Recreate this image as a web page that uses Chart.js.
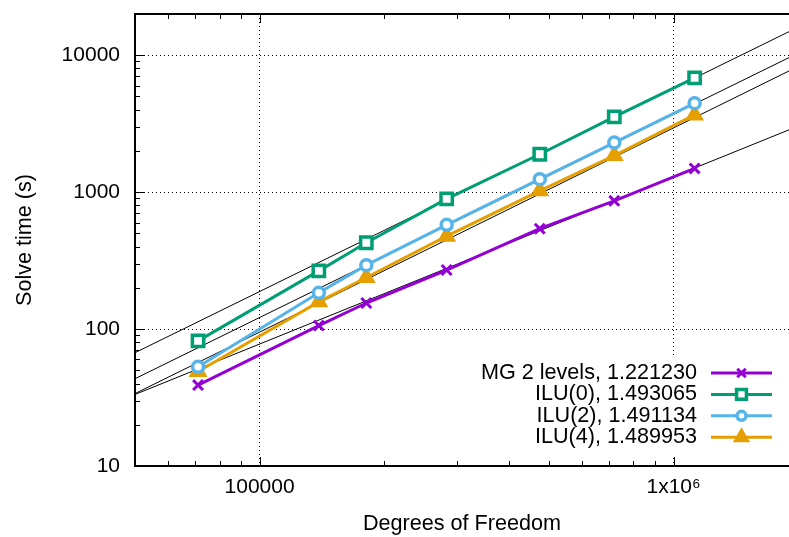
<!DOCTYPE html>
<html>
<head>
<meta charset="utf-8">
<title>Solve time vs degrees of freedom</title>
<script src="https://cdn.jsdelivr.net/npm/chart.js"></script>
<style>
  html, body { margin: 0; padding: 0; background: #ffffff; }
  #wrap { width: 789px; height: 537px; }
</style>
</head>
<body>
<div id="wrap"><canvas id="solveChart" width="789" height="537"></canvas></div>
<script>
  // values
  const dofs = [71000, 139000, 181000, 283000, 475000, 719000, 1124000];
  const mgTimes = [39, 106, 155, 270, 541, 864, 1490];
  const ilu0Times = [82, 266, 427, 894, 1892, 3548, 6826];
  const ilu2Times = [53, 184, 293, 577, 1244, 2300, 4467];
  const ilu4Times = [49, 158, 238, 477, 1022, 1850, 3664];

  // fitted power-law lines, end points at the plot edges
  const fitX = [50000, 1900000];
  const mgFit = [33.3, 2851];
  const ilu0Fit = [67.2, 14860];
  const ilu2Fit = [43.4, 9605];
  const ilu4Fit = [33.8, 7675];

  const seriesLabels = ['MG 2 levels, 1.221230', 'ILU(0), 1.493065', 'ILU(2), 1.491134', 'ILU(4), 1.489953'];
  const xTicks = [100000, 1000000];
  const yTicks = [10, 100, 1000, 10000];

  const FONT = "'Liberation Sans', Arial, Helvetica, sans-serif";

  function pts(xs, ys) {
    return xs.map((x, i) => ({ x: x, y: ys[i] }));
  }

  function series(label, ys, color, style, radius, bg, bw) {
    return {
      label: label,
      data: pts(dofs, ys),
      borderColor: color,
      backgroundColor: bg,
      pointBackgroundColor: bg,
      pointBorderColor: color,
      pointStyle: style,
      pointRadius: radius,
      pointBorderWidth: bw,
      borderWidth: 3,
      tension: 0,
      order: 1
    };
  }

  function fitLine(ys) {
    return {
      label: '',
      data: pts(fitX, ys),
      borderColor: '#000',
      borderWidth: 1,
      pointRadius: 0,
      tension: 0,
      isFit: true,
      order: 5
    };
  }

  // key in the lower right: white box, text first, then line sample with marker
  const keyBox = {
    id: 'keyBox',
    beforeDatasetsDraw(chart) {
      const ctx = chart.ctx;
      ctx.save();
      ctx.fillStyle = '#ffffff';
      ctx.fillRect(474, 356, chart.chartArea.right - 474, 100);
      ctx.restore();
    },
    afterDatasetsDraw(chart) {
      const ctx = chart.ctx;
      const textRight = 697, lineL = 711, lineR = 772, rowTop = 373, rowGap = 21.4;
      const sets = chart.data.datasets.filter(d => !d.isFit);
      ctx.save();
      ctx.font = '21.6px ' + FONT;
      ctx.textAlign = 'right';
      ctx.textBaseline = 'middle';
      sets.forEach((ds, i) => {
        const y = rowTop + i * rowGap;
        ctx.fillStyle = '#000';
        ctx.fillText(ds.label, textRight, y);
        ctx.strokeStyle = ds.borderColor;
        ctx.lineWidth = 3;
        ctx.beginPath();
        ctx.moveTo(lineL, y); ctx.lineTo(lineR, y);
        ctx.stroke();
        ctx.fillStyle = ds.pointBackgroundColor;
        ctx.lineWidth = ds.pointBorderWidth;
        Chart.helpers.drawPoint(ctx, {
          pointStyle: ds.pointStyle,
          radius: ds.pointRadius - 1,
          borderWidth: ds.pointBorderWidth,
          rotation: 0
        }, (lineL + lineR) / 2, y);
      });
      ctx.restore();
    }
  };

  // gnuplot style inward tick marks and the top frame line
  const frameTicks = {
    id: 'frameTicks',
    beforeDatasetsDraw(chart) {
      const ctx = chart.ctx;
      const a = chart.chartArea;
      const xs = chart.scales.x, ys = chart.scales.y;
      ctx.save();
      ctx.strokeStyle = '#000';
      ctx.lineWidth = 1;
      ctx.beginPath();
      for (let d = 10000; d <= 1000000; d *= 10) {
        for (let m = 1; m <= 9; m++) {
          const v = d * m;
          if (v < xs.min || v > xs.max) continue;
          const px = Math.round(xs.getPixelForValue(v)) + 0.5;
          const len = m === 1 ? 9 : 5;
          ctx.moveTo(px, a.bottom); ctx.lineTo(px, a.bottom - len);
          ctx.moveTo(px, a.top); ctx.lineTo(px, a.top + len);
        }
      }
      for (let d = 10; d <= 10000; d *= 10) {
        for (let m = 1; m <= 9; m++) {
          const v = d * m;
          if (v < ys.min || v > ys.max) continue;
          const py = Math.round(ys.getPixelForValue(v)) + 0.5;
          const len = m === 1 ? 9 : 5;
          ctx.moveTo(a.left, py); ctx.lineTo(a.left + len, py);
        }
      }
      ctx.stroke();
      ctx.lineWidth = 2;
      ctx.beginPath();
      ctx.moveTo(a.left, a.top); ctx.lineTo(a.right, a.top);
      ctx.stroke();
      ctx.restore();
    }
  };

  const ctx = document.getElementById('solveChart').getContext('2d');
  const solveChart = new Chart(ctx, {
    type: 'line',
    data: {
      datasets: [
        series(seriesLabels[0], mgTimes, '#9400d3', 'crossRot', 7, '#9400d3', 3),
        series(seriesLabels[1], ilu0Times, '#009e73', 'rect', 8, '#ffffff', 3.5),
        series(seriesLabels[2], ilu2Times, '#56b4e9', 'circle', 5.5, '#ffffff', 3.5),
        series(seriesLabels[3], ilu4Times, '#e69f00', 'triangle', 8, '#e69f00', 3),
        fitLine(mgFit),
        fitLine(ilu0Fit),
        fitLine(ilu2Fit),
        fitLine(ilu4Fit)
      ]
    },
    options: {
      responsive: false,
      animation: false,
      devicePixelRatio: 1,
      layout: { autoPadding: false, padding: { top: 14, right: 0, bottom: 0, left: 0 } },
      plugins: {
        legend: { display: false },
        tooltip: { enabled: false }
      },
      scales: {
        x: {
          type: 'logarithmic',
          min: 50000,
          max: 1900000,
          afterBuildTicks: s => { s.ticks = xTicks.map(v => ({ value: v })); },
          afterFit: s => { s.height = 71; s.paddingLeft = 0; s.paddingRight = 0; },
          ticks: {
            autoSkip: false,
            maxRotation: 0,
            padding: 9,
            color: '#000',
            font: { size: 21, family: FONT },
            callback: v => (v === 1000000 ? '1x10\u2076' : String(v))
          },
          grid: { color: '#000', lineWidth: 1, drawTicks: false },
          border: { display: true, color: '#000', width: 2, dash: [1, 3] },
          title: {
            display: true,
            text: 'Degrees of Freedom',
            color: '#000',
            font: { size: 21.6, family: FONT },
            padding: { top: 3, bottom: 0 }
          }
        },
        y: {
          type: 'logarithmic',
          min: 10,
          max: 20000,
          afterBuildTicks: s => { s.ticks = yTicks.map(v => ({ value: v })); },
          afterFit: s => { s.width = 135; s.paddingTop = 0; s.paddingBottom = 0; },
          ticks: {
            padding: 15,
            color: '#000',
            font: { size: 21, family: FONT },
            callback: v => String(v)
          },
          grid: { color: '#000', lineWidth: 1, drawTicks: false },
          border: { display: true, color: '#000', width: 2, dash: [1, 3] },
          title: {
            display: true,
            text: 'Solve time (s)',
            color: '#000',
            font: { size: 21.6, family: FONT },
            padding: { top: 12, bottom: 0 }
          }
        }
      }
    },
    plugins: [keyBox, frameTicks]
  });
</script>
</body>
</html>
